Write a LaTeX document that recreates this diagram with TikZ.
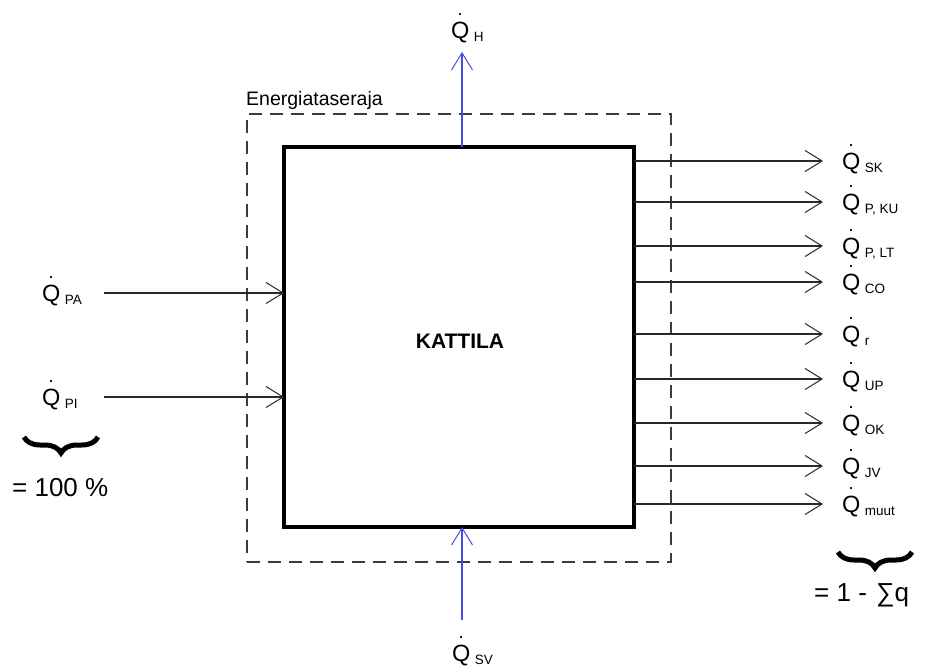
\documentclass[tikz,border=0pt]{standalone}
\usepackage{fontspec}
\setmainfont{Liberation Sans}
\usetikzlibrary{arrows.meta,decorations.pathreplacing}
\definecolor{linegray}{RGB}{40,40,40}
\definecolor{dashgray}{RGB}{60,60,60}
\definecolor{flowblue}{RGB}{75,75,225}
\newcommand\QD[1]{\ooalign{Q\cr\hidewidth\raisebox{22.5pt}{\fontsize{13}{13}\selectfont\bfseries.}\hidewidth\cr}\hspace{4.5pt}\raisebox{-3pt}{\fontsize{13.5}{13.5}\selectfont #1}}
\begin{document}
\begin{tikzpicture}[x=1pt,y=-1pt,
  lbl/.style={inner sep=0pt, outer sep=0pt, anchor=base west, font=\fontsize{23.5}{23.5}\selectfont},
  arr/.style={draw=linegray, line width=1.1pt, -{Straight Barb[length=17pt,width=21pt,line width=1pt]}},
  barr/.style={draw=flowblue, line width=1.1pt, -{Straight Barb[length=17pt,width=21pt,line width=1pt]}},
  bigtxt/.style={inner sep=0pt, anchor=base west, font=\fontsize{26}{26}\selectfont},
  brc/.style={draw=black, line width=5pt, decorate, decoration={brace, amplitude=16pt, aspect=0.5}}
]
\useasboundingbox (0,0) rectangle (925,669);

% boundary and boiler
\node[draw=dashgray, line width=1.3pt, dash pattern=on 13pt off 8pt, minimum width=424, minimum height=448, outer sep=0pt, inner sep=0pt] (bound) at (459,338) {};
\node[draw=black, line width=4pt, minimum width=350, minimum height=380, outer sep=0pt, inner sep=0pt] (box) at (459,337) {};
\node[font=\fontsize{21}{21}\selectfont\bfseries, inner sep=0pt] (kat) at (460,341) {KATTILA};
\node[inner sep=0pt, anchor=base west, font=\fontsize{19.5}{19.5}\selectfont] (ets) at (246,105) {Energiataseraja};

% top and bottom flows
\node[lbl] (qh) at (451,38) {\QD{H}};
\coordinate (th) at (462,52);
\draw[barr] (box.north -| th) -- (th);
\node[lbl] (qsv) at (452,661) {\QD{SV}};
\coordinate (bs) at (462,620);
\draw[barr] (bs) -- (box.south -| bs);

% inputs
\node[lbl] (qpa) at (42,301) {\QD{PA}};
\node[lbl] (qpi) at (42,405) {\QD{PI}};
\coordinate (spa) at (104,293);
\coordinate (spi) at (104,397);
\draw[arr] (spa) -- (box.west |- spa);
\draw[arr] (spi) -- (box.west |- spi);

% outputs
\foreach \nm/\yy/\sub in {sk/161/SK, pku/202/{P, KU}, plt/246/{P, LT}, co/282/CO, r/334/r, up/379/UP, ok/423/OK, jv/466/JV, muut/504/muut}{
  \node[lbl] (q\nm) at (842,\yy+8) {\QD{\sub}};
  \coordinate (t\nm) at (823,\yy);
  \draw[arr] (box.east |- t\nm) -- (t\nm);
}

% braces and sums
\draw[brc] (98,437) -- (24,437);
\node[bigtxt] (hundred) at (12,496) {= 100 \%};
\draw[brc] (912,552) -- (838,552);
\node[bigtxt] (rest) at (814,601) {= 1 -\hspace{2pt} ∑q};
\end{tikzpicture}
\end{document}
